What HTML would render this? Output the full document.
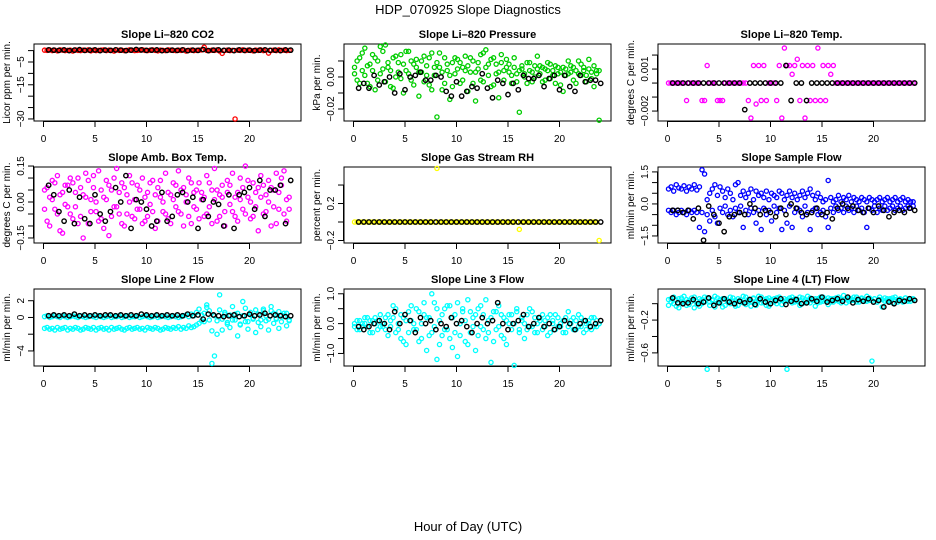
<!DOCTYPE html>
<html><head><meta charset="utf-8">
<style>
html,body{margin:0;padding:0;background:#fff;}
svg{display:block;font-family:"Liberation Sans",sans-serif;}
</style></head>
<body>
<svg id="chart" width="936" height="540" viewBox="0 0 936 540" xmlns="http://www.w3.org/2000/svg">
<rect width="936" height="540" fill="#fff"/>
<text x="468" y="14" text-anchor="middle" font-size="13">HDP_070925  Slope Diagnostics</text>
<text x="468" y="531" text-anchor="middle" font-size="13">Hour of Day (UTC)</text>
</svg>
<script>
const hours = [0.1,0.35,0.6,0.85,1.1,1.35,1.6,1.85,2.1,2.35,2.6,2.85,3.1,3.35,3.6,3.85,4.1,4.35,4.6,4.85,5.1,5.35,5.6,5.85,6.1,6.35,6.6,6.85,7.1,7.35,7.6,7.85,8.1,8.35,8.6,8.85,9.1,9.35,9.6,9.85,10.1,10.35,10.6,10.85,11.1,11.35,11.6,11.85,12.1,12.35,12.6,12.85,13.1,13.35,13.6,13.85,14.1,14.35,14.6,14.85,15.1,15.35,15.6,15.85,16.1,16.35,16.6,16.85,17.1,17.35,17.6,17.85,18.1,18.35,18.6,18.85,19.1,19.35,19.6,19.85,20.1,20.35,20.6,20.85,21.1,21.35,21.6,21.85,22.1,22.35,22.6,22.85,23.1,23.35,23.6,23.85];
const blackHours = [0.5,1,1.5,2,2.5,3,3.5,4,4.5,5,5.5,6,6.5,7,7.5,8,8.5,9,9.5,10,10.5,11,11.5,12,12.5,13,13.5,14,14.5,15,15.5,16,16.5,17,17.5,18,18.5,19,19.5,20,20.5,21,21.5,22,22.5,23,23.5,24];
const xTicks = [0,5,10,15,20];

const co2A = [0.2,0.1,0.3,0,0.2,-0.1,0.3,0.2,0,0.1,0.2,-0.2,0.3,0.1,0,0.2,0.1,0.3,-0.1,0.2,0,0.1,0.2,0.3,0,0.2,0.1,-0.2,0.3,0.1,0.2,0,0.1,0.3,0.2,0,0.1,0.2,0.4,0.1,0,0.2,0.3,0.1,-0.1,0.2,0.1,0,0.3,0.2,0.1,0,0.2,0.1,0.3,-0.2,0.1,0.2,0,0.1,0.2,0.3,1.5,0.1,0,0.2,0.1,0.3,-0.2,-1.2,0.1,0.2,0,0.1,-30,0.2,0.1,0.3,0,0.2,0.1,-0.1,0.2,0.1,0.3,0,0.2,-1.1,0.1,0.2,0,0.3,0.1,0.2,0,0.1];
const co2Black = [0.3,0.2,0.1,0.3,0,0.2,0.4,0.1,0.2,0.3,0,0.2,0.1,0.3,0.2,0,0.2,0.5,0.3,0.1,0.2,0.3,0,0.1,0.2,0.1,0.3,0,0.2,0.1,0.5,0,0.2,0.3,0.1,0.2,0,0.3,0.1,0.2,0,0.2,0.3,0.1,0.2,0,0.3,0.2];

const presA = [0.006,-0.002,0.012,0.004,0.018,-0.004,0.008,0.014,-0.008,0.010,0.002,0.016,0.020,0.006,-0.006,0.012,0.000,0.009,0.014,-0.010,0.004,0.016,-0.002,0.008,0.011,-0.012,0.003,0.013,0.007,-0.005,0.015,0.001,-0.025,0.006,-0.008,0.012,0.004,-0.014,0.009,0.002,0.011,-0.004,0.006,0.013,-0.009,0.003,0.010,-0.015,0.005,0.014,-0.003,0.017,0.008,-0.006,0.012,0.002,-0.013,0.009,0.004,0.011,0.003,-0.004,0.006,0.002,-0.022,0.005,0.000,0.009,0.004,-0.003,0.007,0.013,0.002,0.006,-0.002,0.004,0.008,0.001,-0.004,0.006,0.003,-0.009,0.005,0.002,0.007,-0.002,0.004,0.010,0.001,0.006,-0.003,0.011,0.003,-0.006,0.004,-0.027];
const presB = [0.002,0.010,-0.004,0.015,0.001,0.007,-0.006,0.004,0.012,-0.002,0.019,0.005,-0.003,0.009,0.004,-0.007,0.013,0.003,-0.001,0.008,0.016,0.002,0.010,-0.005,0.006,0.003,0.010,-0.003,0.001,0.012,-0.008,0.006,0.009,0.015,0.003,-0.004,0.008,0.001,-0.006,0.012,0.005,0.009,-0.002,0.004,0.007,0.012,-0.004,0.003,0.009,-0.002,0.015,0.006,0.001,0.011,-0.005,0.008,0.003,0.014,-0.002,0.006,0.008,0.001,0.012,-0.003,0.004,0.007,0.002,-0.004,0.009,0.003,0.000,0.005,0.007,-0.003,0.005,0.009,-0.001,0.004,0.007,0.002,-0.005,0.006,0.001,0.010,0.003,0.006,-0.004,0.002,0.008,0.004,0.001,0.005,-0.001,0.007,0.002,0.004];
const presBlack = [-0.007,-0.004,-0.007,0.001,-0.005,-0.003,0.000,-0.010,0.002,-0.008,0.000,0.001,0.003,-0.002,-0.002,0.001,0.000,-0.009,-0.012,-0.003,-0.012,-0.009,-0.006,-0.007,0.002,-0.007,-0.013,-0.002,-0.004,-0.011,-0.004,-0.008,0.001,-0.001,-0.001,0.001,-0.006,-0.001,0.001,-0.008,0.001,-0.006,-0.009,0.001,-0.003,-0.002,-0.002,-0.004];

const tempA = [0,0,0,0,0,0,0,-0.00125,0,0,0,0,0,-0.00125,-0.00125,0.00125,0,0,0,-0.00125,-0.00125,-0.00125,0,0,0,0,0,0,0,0,0,-0.00125,-0.0025,0.00125,-0.0015,0.00125,-0.00125,0.00125,-0.00125,0,0,0,-0.00125,0.00125,-0.0025,0.0025,0.00125,0.00125,0.000625,0.00125,0.0017,-0.00125,0.00125,-0.0025,0.00125,-0.00125,0.00125,-0.00125,0.0025,-0.00125,0.00125,-0.00125,0.00125,0.000625,0.00125,0,0,0,0,0,0,0,0,0,0,0,0,0,0,0,0,0,0,0,0,0,0,0,0,0,0,0,0,0,0,0];
const tempBlack = [0,0,0,0,0,0,0,0,0,0,0,0,0,0,-0.0019,0,0,0,0,0,0,0,0.00125,-0.00125,0,0,-0.00125,0,0,0,0,0,0,0,0,0,0,0,0,0,0,0,0,0,0,0,0,0];

const ambA = [0.05,-0.08,0.02,0.09,-0.03,0.11,-0.12,0.04,-0.01,0.07,-0.05,0.08,-0.02,0.10,-0.06,0.03,0.12,-0.09,0.01,0.06,-0.04,0.13,-0.07,0.02,0.09,-0.14,0.05,-0.02,0.14,-0.05,0.08,-0.10,0.03,0.11,-0.06,0.01,0.07,-0.03,0.10,-0.08,0.04,-0.01,0.09,-0.11,0.06,0.02,-0.04,0.12,-0.07,0.03,0.08,-0.02,0.13,-0.05,0.06,0.00,0.10,-0.09,0.04,-0.03,0.08,0.01,-0.06,0.11,-0.02,0.05,0.14,-0.08,0.03,0.07,-0.04,0.09,-0.01,0.12,-0.06,0.04,0.10,-0.03,0.15,0.02,-0.07,0.08,-0.02,0.06,0.11,-0.05,0.03,0.09,-0.10,0.05,0.12,-0.03,0.07,0.13,-0.08,0.02];
const ambB = [-0.03,0.06,-0.10,0.01,0.08,-0.05,0.03,-0.13,0.07,-0.02,0.10,-0.07,0.04,-0.09,0.06,-0.15,0.02,0.09,-0.04,0.11,0.00,-0.08,0.05,-0.11,0.01,0.07,-0.06,0.10,-0.02,0.04,-0.09,0.06,-0.05,0.00,0.08,-0.07,-0.03,0.05,-0.09,0.02,-0.06,0.08,-0.04,0.03,-0.08,0.09,0.00,-0.05,0.04,-0.09,0.01,0.07,-0.04,0.05,-0.10,0.03,-0.06,0.08,-0.02,0.05,-0.07,0.04,0.02,-0.05,0.08,-0.09,0.01,0.05,-0.06,0.02,-0.10,0.04,0.07,-0.04,0.02,-0.08,0.01,0.06,-0.05,0.09,0.00,-0.06,0.04,-0.12,0.02,0.07,-0.04,0.00,0.06,-0.02,-0.09,0.04,0.10,-0.05,0.01,-0.03];
const ambBlack = [0.07,0.03,-0.04,-0.08,0.05,-0.09,0.02,-0.07,-0.09,0.03,-0.05,-0.08,-0.04,0.06,0.00,0.11,-0.11,0.01,0.00,-0.03,-0.10,-0.08,0.04,-0.08,-0.06,0.03,0.04,0.00,0.02,-0.11,0.01,-0.06,0.00,-0.01,-0.10,0.03,-0.11,0.03,0.04,0.06,-0.03,0.09,-0.06,0.05,0.05,0.07,-0.09,0.09];

const rhA = [0,0,0,0,0,0,0,0,0,0,0,0,0,0,0,0,0,0,0,0,0,0,0,0,0,0,0,0,0,0,0,0,0.58,0,0,0,0,0,0,0,0,0,0,0,0,0,0,0,0,0,0,0,0,0,0,0,0,0,0,0,0,0,0,0,-0.08,0,0,0,0,0,0,0,0,0,0,0,0,0,0,0,0,0,0,0,0,0,0,0,0,0,0,0,0,0,0,-0.2];
const rhBlack = [0,0,0,0,0,0,0,0,0,0,0,0,0,0,0,0,0,0,0,0,0,0,0,0,0,0,0,0,0,0,0,0,0,0,0,0,0,0,0,0,0,0,0,0,0,0,0,0];

const sampA = [0.7,0.8,0.6,0.9,0.75,0.7,0.85,0.6,0.8,0.7,0.9,0.65,0.8,1.6,1.4,0.2,0.5,0.7,0.9,0.4,0.8,0.6,0.3,0.7,0.5,0.2,0.9,1.0,0.4,0.6,0.3,0.5,0.7,0.2,0.6,0.4,0.5,0.3,0.6,0.2,0.5,0.4,0.3,0.6,0.5,0.2,0.4,0.6,0.3,0.5,0.2,0.4,0.6,0.3,0.5,0.7,0.4,0.2,0.5,0.3,0.1,0.2,1.1,0.3,0.1,0.2,0.4,0.1,0.3,0.2,0.4,0.1,0.3,0.2,0.1,0.3,0.2,0.1,0.3,0.2,0.1,0.2,0.3,0.1,0.2,0.3,0.1,0.2,0.3,0.1,0.2,0.3,0.1,0.2,0.1,0.1];
const sampB = [-0.3,-0.4,-0.3,-0.5,-0.4,-0.3,-0.4,-0.5,-0.3,-0.4,-0.3,-0.4,-1.1,-0.4,-1.3,-0.5,-0.8,-0.3,-0.6,-0.9,-0.2,-0.4,-0.1,-0.5,-0.3,-0.6,-0.2,-0.4,-0.1,-1.1,-0.3,-0.5,-0.2,-0.4,-0.9,-0.3,-1.2,-0.2,-0.5,-0.3,-0.8,-0.1,-0.4,-0.2,-1.2,-0.3,-0.9,-0.1,-1.1,-0.4,-0.2,-0.3,-0.6,-0.1,-0.4,-1.2,-0.3,-0.2,-0.5,-0.4,-0.3,-0.6,-1.1,-0.2,-0.4,-0.1,-0.3,-0.2,-0.4,-0.1,-0.3,-0.2,-0.4,-0.1,-0.3,-0.2,-0.4,-1.1,-0.2,-0.3,-0.1,-0.4,-0.2,-0.3,-0.1,-0.3,-0.2,-0.1,-0.3,-0.2,-0.1,-0.3,-0.2,-0.1,-0.2,-0.1];
const sampBlack = [-0.3,-0.3,-0.4,-0.3,-0.7,-0.2,-1.7,-0.1,-0.5,-0.9,-1.3,-0.6,-0.5,-0.4,-0.5,0.0,-0.2,-0.5,-0.3,-0.4,-0.6,-0.2,-0.5,0.0,-0.2,-0.4,-0.5,-0.4,-0.2,-0.5,-0.4,-0.7,-0.2,0.0,-0.2,-0.1,-0.3,-0.4,-0.2,-0.4,-0.1,-0.3,-0.6,-0.4,-0.3,-0.4,-0.2,-0.3];

const l2A = [-1.3,-1.2,-1.4,-1.3,-1.5,-1.2,-1.4,-1.3,-1.2,-1.5,-1.3,-1.4,-1.2,-1.3,-1.5,-1.4,-1.2,-1.3,-1.4,-1.2,-1.5,-1.3,-1.2,-1.4,-1.3,-1.5,-1.2,-1.4,-1.3,-1.2,-1.4,-1.5,-1.3,-1.2,-1.4,-1.3,-1.2,-1.4,-1.3,-1.5,-1.2,-1.3,-1.4,-1.2,-1.3,-1.5,-1.4,-1.2,-1.3,-1.4,-1.2,-1.3,-1.1,-1.4,-1.2,-1.3,-1.0,-1.2,-1.1,-0.9,-0.7,-0.4,0.5,1.2,-0.3,-5.5,-4.6,-2.0,2.7,-1.5,0.6,-0.8,-1.2,-0.3,0.4,-2.2,-0.9,1.9,-0.5,-1.4,0.3,-0.2,-1.8,-0.6,-1.1,0.8,-0.4,-1.5,1.3,-0.7,-0.2,-1.3,-0.5,0.5,-1.0,-0.3];
const l2B = [0.1,0.2,0,0.1,0.2,0.1,0,0.2,0.1,0,0.1,0.2,0.1,0,0.2,0.1,0,0.1,0.2,0.1,0,0.2,0.1,0,0.1,0.2,0,0.1,0.1,0.2,0,0.1,0.2,0,0.1,0.1,0.2,0,0.1,0.2,0.1,0,0.1,0.2,0,0.1,0.2,0.1,0,0.1,0.2,0.1,0,0.1,0.2,0.3,0.1,0.4,0.2,0.6,1.0,0.3,-0.5,1.5,0.8,-1.6,0.2,-0.4,0.9,-0.2,0.4,-0.6,0.3,1.3,-0.3,0.5,-0.8,0.2,1.1,-0.5,0.6,-0.1,0.9,0.4,-0.3,1.0,0.2,-0.2,0.8,0.5,-0.1,0.7,0.3,0.1,0.5,-0.4];
const l2Black = [0.2,0.3,0.2,0.3,0.2,0.4,0.2,0.3,0.2,0.3,0.2,0.3,0.3,0.2,0.3,0.2,0.3,0.2,0.4,0.3,0.2,0.3,0.2,0.3,0.2,0.3,0.2,0.4,0.2,0.3,-0.2,0.4,0.3,0.2,0.1,0.2,0.3,0.1,0.2,0.4,0.2,0.3,0.5,0.2,0.3,0.2,0.1,0.2];

const l3A = [-0.1,0.1,-0.2,0.0,0.2,-0.1,-0.3,0.1,0.0,-0.2,0.3,-0.1,0.2,-0.4,0.1,0.6,-0.3,0.0,-0.5,0.2,-0.7,0.4,0.1,-0.2,0.5,-0.6,0.0,0.3,-0.9,0.2,-0.3,0.7,-1.2,0.1,-0.4,0.5,-0.2,0.6,-0.8,0.3,-1.1,0.0,0.4,-0.6,0.8,-0.3,0.2,-0.9,0.5,-0.1,0.3,-0.5,0.1,-1.3,0.4,-0.2,0.6,-0.4,0.2,-0.7,0.0,0.3,-1.4,0.5,-0.2,0.1,-0.5,0.3,-0.1,0.4,-0.3,0.0,0.2,-0.2,0.1,-0.4,0.3,0.0,-0.2,0.2,-0.1,0.1,-0.3,0.4,0.0,-0.2,0.1,-0.1,0.2,-0.3,0.0,0.1,-0.2,0.2,-0.1,0.0];
const l3B = [0.0,-0.2,0.1,-0.1,0.0,0.2,0.1,-0.3,0.2,0.1,-0.1,0.0,-0.2,0.3,-0.1,0.2,0.5,-0.2,0.3,-0.6,0.1,-0.3,0.6,0.0,-0.2,0.4,-0.5,0.7,0.2,-0.4,1.0,-0.1,0.5,-0.7,0.3,-0.2,0.6,-0.5,0.2,-0.3,0.7,-0.4,0.5,0.1,-0.7,0.4,-0.1,0.3,-0.4,0.6,-0.2,0.8,-0.3,0.2,-0.6,0.4,-0.1,0.3,-0.5,0.1,0.3,-0.2,0.0,0.4,-0.3,0.2,0.0,-0.2,0.5,-0.1,0.2,-0.3,0.1,0.3,-0.1,0.2,-0.3,0.1,0.3,-0.1,0.0,-0.3,0.2,-0.1,0.1,0.2,-0.2,0.3,-0.1,0.1,-0.2,0.0,0.2,-0.1,0.1,0.0];
const l3Black = [-0.1,-0.2,-0.1,0.0,0.1,0.0,-0.2,0.4,0.0,0.3,0.1,-0.3,0.2,0.0,0.1,-0.2,0.0,-0.1,0.2,0.0,0.1,-0.1,-0.3,0.0,0.2,0.0,0.1,0.7,0.0,-0.2,0.0,0.1,0.3,-0.1,0.0,0.2,-0.1,0.0,-0.2,-0.1,0.1,0.0,-0.2,0.0,0.1,-0.1,0.0,0.1];

const l4A = [0.05,0.02,0.08,-0.03,0.06,0.01,0.09,-0.02,0.04,0.07,-0.05,0.03,0.06,0.00,0.08,-0.8,0.02,0.05,-0.04,0.07,0.01,0.06,-0.02,0.04,0.08,0.03,-0.03,0.06,0.02,0.09,-0.01,0.05,0.03,0.07,-0.02,0.04,0.08,0.01,0.06,-0.03,0.05,0.02,0.07,0.03,-0.01,0.06,-0.8,0.04,0.08,0.02,0.05,-0.02,0.07,0.03,0.09,0.01,0.05,-0.03,0.06,0.02,0.08,0.04,-0.01,0.06,0.02,0.07,0.03,0.05,0.10,0.01,0.06,0.04,0.08,0.02,0.05,0.07,0.03,0.09,0.04,-0.7,0.06,0.02,0.05,-0.04,0.07,0.03,0.06,0.01,0.08,0.04,0.05,0.02,0.07,0.03,0.06,0.05];
const l4B = [-0.02,0.06,0.00,0.04,-0.05,0.07,0.02,0.05,-0.01,0.03,0.08,0.00,-0.03,0.05,0.02,0.07,-0.02,0.04,0.09,0.01,0.05,-0.04,0.06,0.02,0.00,0.07,0.04,-0.02,0.05,0.01,0.08,0.03,-0.03,0.06,0.02,0.09,0.01,0.05,-0.02,0.07,0.03,0.06,0.00,0.08,0.04,0.02,0.05,0.07,0.01,0.06,0.03,0.08,0.00,0.05,0.02,0.07,0.04,0.06,0.01,0.08,0.03,0.05,0.07,0.02,0.06,0.04,0.08,0.01,0.05,0.07,0.03,0.06,0.04,0.08,0.02,0.06,0.05,0.03,0.07,0.04,0.06,0.02,0.08,0.05,0.03,0.06,0.04,0.07,0.05,0.02,0.06,0.04,0.07,0.05,0.03,0.06];
const l4Black = [0.07,0.01,0.00,0.01,0.05,0.00,0.02,0.07,-0.02,0.01,0.06,0.02,0.00,0.03,0.01,0.05,-0.01,0.06,0.02,0.00,0.04,0.06,-0.01,0.03,0.05,0.00,0.01,0.06,0.03,0.08,0.02,0.04,0.06,0.03,0.08,0.01,0.05,0.03,0.06,0.02,0.04,-0.04,0.02,0.00,0.04,0.03,0.06,0.04];

const panels = [
 {name:'co2',title:'Slope Li\u2013820 CO2',ylab:'Licor ppm per min.',col:'#ff0000',x:34,y:44,h:77,ymin:-30.9,ymax:2.9,ticks:[0,-5,-10,-15,-20,-25,-30],labels:[null,'\u22125',null,'\u221215',null,null,'\u221230'],series:[co2A],black:co2Black},
 {name:'pressure',title:'Slope Li\u2013820 Pressure',ylab:'kPa per min.',col:'#00cd00',x:344,y:44,h:77,ymin:-0.0275,ymax:0.0206,ticks:[-0.02,-0.01,0,0.01],labels:['\u22120.02',null,'0.00',null],series:[presA,presB],black:presBlack},
 {name:'temp',title:'Slope Li\u2013820 Temp.',ylab:'degrees C per min.',col:'#ff00ff',x:658,y:44,h:77,ymin:-0.00271,ymax:0.00279,ticks:[-0.002,-0.001,0,0.001,0.002],labels:['\u22120.002',null,null,'0.001',null],series:[tempA],black:tempBlack},
 {name:'amb-box-temp',title:'Slope Amb. Box Temp.',ylab:'degrees C per min.',col:'#ff00ff',x:34,y:167,h:76,ymin:-0.171,ymax:0.146,ticks:[-0.15,-0.1,-0.05,0,0.05,0.1,0.15],labels:['\u22120.15',null,null,'0.00',null,null,'0.15'],series:[ambA,ambB],black:ambBlack},
 {name:'gas-stream-rh',title:'Slope Gas Stream RH',ylab:'percent per min.',col:'#ffff00',x:344,y:167,h:76,ymin:-0.227,ymax:0.595,ticks:[-0.2,0,0.2,0.4],labels:['\u22120.2',null,'0.2',null],series:[rhA],black:rhBlack},
 {name:'sample-flow',title:'Slope Sample Flow',ylab:'ml/min per min.',col:'#0000ff',x:658,y:167,h:76,ymin:-1.83,ymax:1.73,ticks:[-1.5,-1,-0.5,0,0.5,1,1.5],labels:['\u22121.5',null,null,'0.0',null,null,'1.5'],series:[sampA,sampB],black:sampBlack},
 {name:'line2-flow',title:'Slope Line 2 Flow',ylab:'ml/min per min.',col:'#00ffff',x:34,y:289,h:77,ymin:-5.8,ymax:3.4,ticks:[-4,-2,0,2],labels:['\u22124',null,'0','2'],series:[l2A,l2B],black:l2Black},
 {name:'line3-flow',title:'Slope Line 3 Flow',ylab:'ml/min per min.',col:'#00ffff',x:344,y:289,h:77,ymin:-1.42,ymax:1.16,ticks:[-1,-0.5,0,0.5,1],labels:['\u22121.0',null,'0.0',null,'1.0'],series:[l3A,l3B],black:l3Black},
 {name:'line4-flow',title:'Slope Line 4 (LT) Flow',ylab:'ml/min per min.',col:'#00ffff',x:658,y:289,h:77,ymin:-0.76,ymax:0.179,ticks:[-0.6,-0.4,-0.2,0],labels:['\u22120.6',null,'\u22120.2',null],series:[l4A,l4B],black:l4Black}
];

const NS='http://www.w3.org/2000/svg';
const svg=document.getElementById('chart');
function mk(tag,attrs,parent){const e=document.createElementNS(NS,tag);for(const k in attrs)e.setAttribute(k,attrs[k]);(parent||svg).appendChild(e);return e;}

panels.forEach(p=>{
  const W=267;
  const g=mk('g',{});
  
  
  const xS=v=>p.x+9.5+v*10.3;
  const yS=v=>p.y+(p.ymax-v)/(p.ymax-p.ymin)*p.h;
  const t=mk('text',{x:p.x+W/2,y:p.y-6,'text-anchor':'middle','font-size':11,'font-weight':'bold'},g);
  t.textContent=p.title;
  
  
  const box=mk('rect',{x:p.x,y:p.y,width:W,height:p.h,fill:'none',stroke:'#000','stroke-width':1},g);
  
  
  const xb=p.y+p.h;
  const xa=mk('line',{x1:xS(xTicks[0]),x2:xS(xTicks[xTicks.length-1]),y1:xb+0.5,y2:xb+0.5,stroke:'#000'},g);
  
  
  xTicks.forEach(v=>{
    const l=mk('line',{x1:xS(v),x2:xS(v),y1:xb,y2:xb+6,stroke:'#000'},g);
    
    
    const tl=mk('text',{x:xS(v),y:xb+21,'text-anchor':'middle','font-size':10},g);
    tl.textContent=String(v);
    
    
  });
  const ya=mk('line',{x1:p.x-0.5,x2:p.x-0.5,y1:yS(p.ticks[0]),y2:yS(p.ticks[p.ticks.length-1]),stroke:'#000'},g);
  
  
  p.ticks.forEach((v,i)=>{
    const yy=yS(v);
    const l=mk('line',{x1:p.x-6,x2:p.x,y1:yy,y2:yy,stroke:'#000'},g);
    
    
    if(p.labels[i]){
      const tl=mk('text',{x:p.x-10,y:yy,'text-anchor':'middle','font-size':10,transform:`rotate(-90 ${p.x-10} ${yy})`},g);
      tl.textContent=p.labels[i];
      
      
    }
  });
  const yl=mk('text',{x:p.x-24,y:p.y+p.h/2,'text-anchor':'middle','font-size':10,transform:`rotate(-90 ${p.x-24} ${p.y+p.h/2})`},g);
  yl.textContent=p.ylab;
  
  
  p.series.forEach(arr=>{
    arr.forEach((v,i)=>{
      const c=mk('circle',{cx:xS(hours[i]),cy:yS(v),r:2.1,fill:'none',stroke:p.col,'stroke-width':1.3},g);
      
      
    });
  });
  p.black.forEach((v,i)=>{
    const c=mk('circle',{cx:xS(blackHours[i]),cy:yS(v),r:2.2,fill:'none',stroke:'#000','stroke-width':1.4},g);
    
    
  });
});
</script>
</body></html>
